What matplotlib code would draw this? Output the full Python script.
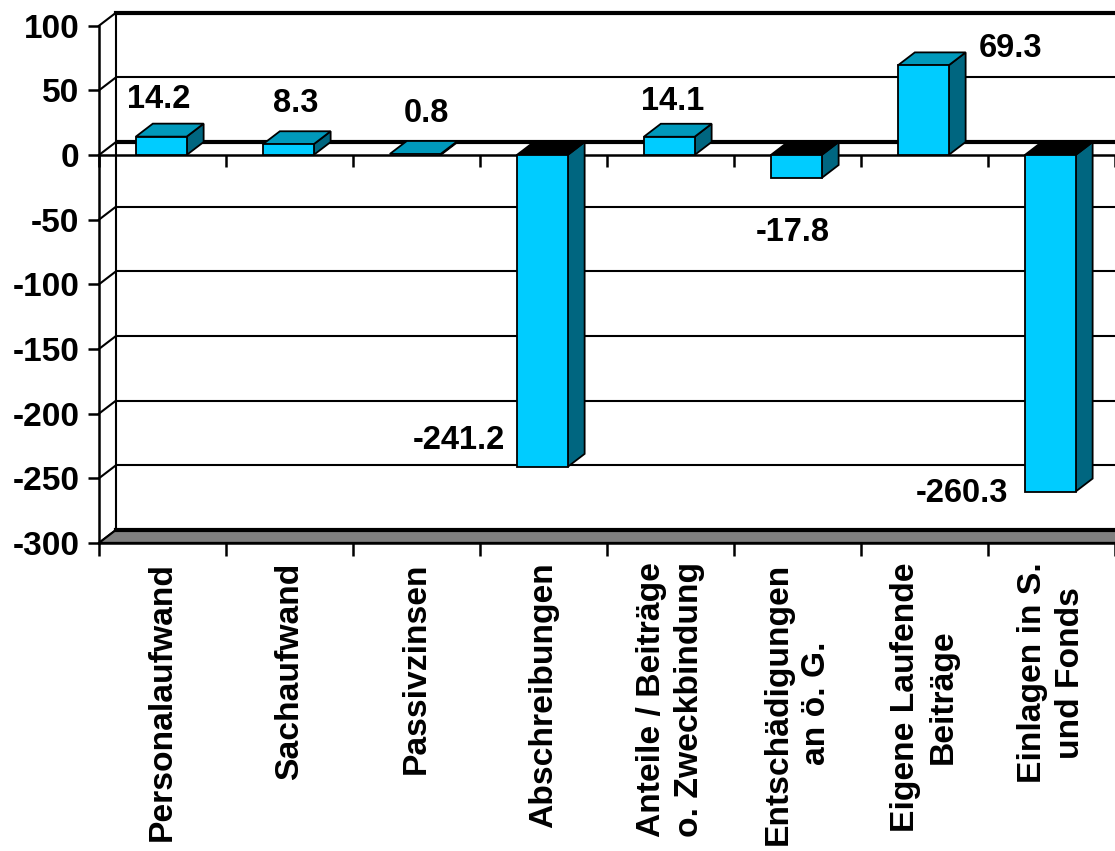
import matplotlib
matplotlib.use("Agg")
import matplotlib.pyplot as plt
from matplotlib.patches import Polygon

# ---- data ----
categories = ["Personalaufwand", "Sachaufwand", "Passivzinsen", "Abschreibungen",
              "Anteile / Beiträge\no. Zweckbindung", "Entschädigungen\nan ö. G.",
              "Eigene Laufende\nBeiträge", "Einlagen in S.\nund Fonds"]
values = [14.2, 8.3, 0.8, -241.2, 14.1, -17.8, 69.3, -260.3]
value_labels = ["14.2", "8.3", "0.8", "-241.2", "14.1", "-17.8", "69.3", "-260.3"]
y_ticks = [100, 50, 0, -50, -100, -150, -200, -250, -300]

# ---- layout / style ----
W, H = 1115, 851
X0PX, CATPX = 99, 127          # pixel of x=0 and pixels per category
Y0PX, UNITPX = 155, 1.293      # pixel of y=0 and pixels per unit
DX = 17 / CATPX                # depth offset in category units
DY = 13 / UNITPX               # depth offset in value units
BAR_W = 0.40
BAR_C = 0.49
FRONT = "#00CCFF"
TOP = "#0099BB"
SIDE = "#006680"
FLOOR = "#808080"
label_offsets_px = [(-4, 37), (6, 41), (10, 40), (-85, 26), (2, 35), (-5, -54), (86, 17), (-90, -2)]

FONT = "Liberation Sans"
plt.rcParams["font.family"] = [FONT, "DejaVu Sans"]
plt.rcParams["font.weight"] = "bold"

fig = plt.figure(figsize=(W / 100, H / 100), dpi=100)
ax = fig.add_axes([0, 0, 1, 1])
ax.set_xlim(-X0PX / CATPX, (W - X0PX) / CATPX)
ax.set_ylim((Y0PX - H) / UNITPX, Y0PX / UNITPX)
ax.patch.set_alpha(0)

n = len(categories)
ymin, ymax = min(y_ticks), max(y_ticks)

# back wall
wall = Polygon([(DX, ymin + DY), (n + DX, ymin + DY), (n + DX, ymax + DY), (DX, ymax + DY)],
               closed=True, facecolor="white", edgecolor="none", zorder=0)
ax.add_patch(wall)
for t in y_ticks:
    lw = 1.5
    if t == 0:
        lw = 3
    ax.plot([DX, n + DX + 1], [t + DY, t + DY], color="black", lw=lw, zorder=1,
            solid_capstyle="butt")
    ax.plot([0, DX], [t, t + DY], color="black", lw=1.5, zorder=1)
ax.plot([DX, n + DX + 1], [ymax + DY, ymax + DY], color="black", lw=3, zorder=1)
ax.plot([DX, DX], [ymin + DY, ymax + DY], color="black", lw=1.5, zorder=1)

# floor
floor = Polygon([(0, ymin), (n, ymin), (n + DX, ymin + DY), (DX, ymin + DY)], closed=True,
                facecolor=FLOOR, edgecolor="black", lw=1.5, zorder=1)
ax.add_patch(floor)
ax.plot([DX, n + DX + 1], [ymin + DY, ymin + DY], color="black", lw=3, zorder=1)

# front zero line with ticks
ax.plot([0, n + 1], [0, 0], color="black", lw=1.8, zorder=2)
ax.vlines(range(n + 1), -12 / UNITPX, 0, color="black", lw=1.8, zorder=2)

# bars
for i, v in enumerate(values):
    x0 = i + BAR_C - BAR_W / 2
    x1 = i + BAR_C + BAR_W / 2
    lo, hi = min(v, 0), max(v, 0)
    side = Polygon([(x1, lo), (x1, hi), (x1 + DX, hi + DY), (x1 + DX, lo + DY)], closed=True,
                   facecolor=SIDE, edgecolor="black", lw=1.3, zorder=3)
    topc = TOP if v >= 0 else "black"
    top = Polygon([(x0, hi), (x1, hi), (x1 + DX, hi + DY), (x0 + DX, hi + DY)], closed=True,
                  facecolor=topc, edgecolor="black", lw=1.3, zorder=3)
    front = Polygon([(x0, lo), (x1, lo), (x1, hi), (x0, hi)], closed=True,
                    facecolor=FRONT, edgecolor="black", lw=1.3, zorder=4)
    ax.add_patch(side)
    ax.add_patch(top)
    if abs(v) > 1:
        ax.add_patch(front)
    ox, oy = label_offsets_px[i]
    ax.annotate(value_labels[i], xy=(i + 0.5, v), xytext=(ox, oy), textcoords="offset pixels",
                ha="center", va="center", fontsize=23.5, fontweight="bold", family=FONT, zorder=6)

# axes spines / ticks
for s in ["top", "right"]:
    ax.spines[s].set_visible(False)
ax.spines["left"].set_position(("data", 0))
ax.spines["left"].set_bounds(ymin, ymax)
ax.spines["bottom"].set_position(("data", ymin))
ax.spines["bottom"].set_bounds(0, n + 1)
ax.spines["left"].set_linewidth(1.8)
ax.spines["bottom"].set_linewidth(1.8)
ax.spines["left"].set_zorder(5)
ax.spines["bottom"].set_zorder(5)

ax.set_yticks(y_ticks)
ax.set_yticklabels([str(t) for t in y_ticks], fontsize=24, fontweight="bold", family=FONT)
ax.tick_params(axis="y", direction="out", length=8, width=1.8, pad=6)

ax.set_xticks(range(n + 1), minor=True)
ax.set_xticks([i + 0.5 for i in range(n)])
ax.set_xticklabels(categories, rotation=90, fontsize=24.2, fontweight="bold", family=FONT,
                   multialignment="center", linespacing=1.28)
ax.tick_params(axis="x", which="major", length=0, pad=14)
ax.tick_params(axis="x", which="minor", direction="out", length=9, width=1.8)

fig.savefig("out.png", dpi=100)
